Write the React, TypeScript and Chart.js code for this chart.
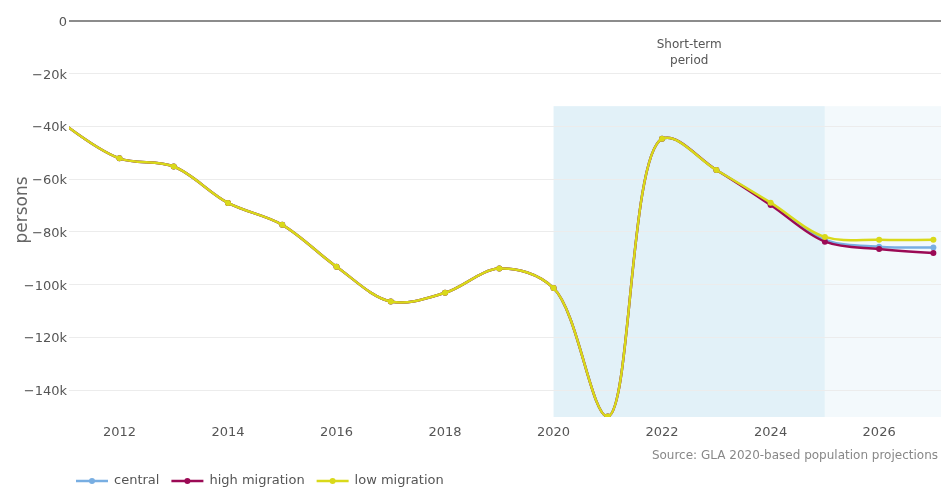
import React, { useEffect, useRef } from 'react';
import { Chart, registerables } from 'chart.js';

Chart.register(...registerables);

// ---------- data ----------
const years = [2011, 2012, 2013, 2014, 2015, 2016, 2017, 2018, 2019, 2020, 2021, 2022, 2023, 2024, 2025, 2026, 2027];
const central = [-39400, -52100, -55200, -69000, -77300, -93200, -106400, -103100, -93900, -101300, -150000, -44700, -56500, -69300, -83000, -85600, -85900];
const highMigration = [-39400, -52100, -55200, -69000, -77300, -93200, -106400, -103100, -93900, -101300, -150000, -44700, -56500, -69800, -83700, -86500, -88000];
const lowMigration = [-39400, -52100, -55200, -69000, -77300, -93200, -106400, -103100, -93900, -101300, -150000, -44700, -56500, -68900, -81900, -83000, -83000];
const seriesNames = ['central', 'high migration', 'low migration'];
const xTickValues = [2012, 2014, 2016, 2018, 2020, 2022, 2024, 2026];
const yTickValues = [0, -20000, -40000, -60000, -80000, -100000, -120000, -140000];
const shortTermStart = 2020;
const shortTermEnd = 2025;
const shadeTopValue = -32300;
const annotationLines = ['Short-term', 'period'];
const annotationX = 2022.5;
const yTitle = 'persons';
const sourceText = 'Source: GLA 2020-based population projections';

// ---------- styles ----------
const seriesColors = ['#78aee2', '#9b0a55', '#d9d91a'];
const FONT = '"DejaVu Sans", Verdana, sans-serif';

function makeTangent(p: number[], t: number[], n: number[]) {
  const d1x = p[0] - t[0], d1y = p[1] - t[1];
  const d2x = n[0] - t[0], d2y = n[1] - t[1];
  const d1a = Math.pow(d1x * d1x + d1y * d1y, 0.25);
  const d2a = Math.pow(d2x * d2x + d2y * d2y, 0.25);
  const numx = d2a * d2a * d1x - d1a * d1a * d2x;
  const numy = d2a * d2a * d1y - d1a * d1a * d2y;
  const den1 = 3 * d2a * (d1a + d2a);
  const den2 = 3 * d1a * (d1a + d2a);
  return [
    [t[0] + (den1 && numx / den1), t[1] + (den1 && numy / den1)],
    [t[0] - (den2 && numx / den2), t[1] - (den2 && numy / den2)],
  ];
}

const decorPlugin = {
  id: 'decor',
  beforeDraw(chart: any) {
    const { ctx, chartArea, scales } = chart;
    const x = scales.x, y = scales.y;
    const x1 = x.getPixelForValue(shortTermStart);
    const x2 = x.getPixelForValue(shortTermEnd);
    const yt = y.getPixelForValue(shadeTopValue);
    ctx.save();
    ctx.fillStyle = '#e2f1f8';
    ctx.fillRect(x1, yt, x2 - x1, chartArea.bottom - yt);
    ctx.fillStyle = '#f3f9fc';
    ctx.fillRect(x2, yt, chartArea.right - x2, chartArea.bottom - yt);
    ctx.restore();
  },
  beforeDatasetDraw(chart: any, args: any) {
    const meta = args.meta;
    const pts = meta.data;
    const n = pts.length;
    if (n < 3) return;
    const P = pts.map((p: any) => [p.x, p.y]);
    const tans: any[] = [];
    for (let i = 1; i < n - 1; i++) tans[i] = makeTangent(P[i - 1], P[i], P[i + 1]);
    const setCp = (i: number, which: 1 | 2, c: number[]) => {
      pts[i]['cp' + which + 'x'] = c[0];
      pts[i]['cp' + which + 'y'] = c[1];
    };
    setCp(0, 1, P[0]);
    setCp(n - 1, 2, P[n - 1]);
    let c = tans[1][0];
    setCp(0, 2, [P[0][0] + (2 / 3) * (c[0] - P[0][0]), P[0][1] + (2 / 3) * (c[1] - P[0][1])]);
    setCp(1, 1, [P[1][0] + (2 / 3) * (c[0] - P[1][0]), P[1][1] + (2 / 3) * (c[1] - P[1][1])]);
    for (let i = 2; i < n - 1; i++) {
      setCp(i - 1, 2, tans[i - 1][1]);
      setCp(i, 1, tans[i][0]);
    }
    c = tans[n - 2][1];
    setCp(n - 2, 2, [P[n - 2][0] + (2 / 3) * (c[0] - P[n - 2][0]), P[n - 2][1] + (2 / 3) * (c[1] - P[n - 2][1])]);
    setCp(n - 1, 1, [P[n - 1][0] + (2 / 3) * (c[0] - P[n - 1][0]), P[n - 1][1] + (2 / 3) * (c[1] - P[n - 1][1])]);
    meta.dataset._pointsUpdated = true;
    meta.dataset._path = undefined;
  },
  afterDraw(chart: any) {
    const { ctx, scales } = chart;
    const x = scales.x;
    ctx.save();
    ctx.fillStyle = '#555';
    ctx.font = `12px ${FONT}`;
    ctx.textAlign = 'center';
    ctx.textBaseline = 'middle';
    const ax = x.getPixelForValue(annotationX);
    annotationLines.forEach((t, i) => ctx.fillText(t, ax, 45 + i * 16));
    ctx.save();
    ctx.translate(23, 210);
    ctx.rotate(-Math.PI / 2);
    ctx.fillStyle = '#666';
    ctx.font = `17px ${FONT}`;
    ctx.fillText(yTitle, 0, 0);
    ctx.restore();
    ctx.fillStyle = '#888';
    ctx.font = `12px ${FONT}`;
    ctx.textAlign = 'right';
    ctx.fillText(sourceText, 938, 456);
    ctx.font = `13px ${FONT}`;
    ctx.textAlign = 'left';
    let lx = 76;
    const ly = 481;
    seriesNames.forEach((name, i) => {
      ctx.strokeStyle = seriesColors[i];
      ctx.lineWidth = 2.5;
      ctx.beginPath();
      ctx.moveTo(lx, ly);
      ctx.lineTo(lx + 32, ly);
      ctx.stroke();
      ctx.fillStyle = seriesColors[i];
      ctx.beginPath();
      ctx.arc(lx + 16, ly, 3, 0, Math.PI * 2);
      ctx.fill();
      ctx.fillStyle = '#555';
      ctx.fillText(name, lx + 38, ly);
      lx += 38 + ctx.measureText(name).width + 12;
    });
    ctx.restore();
  },
};

export default function App() {
  const ref = useRef<HTMLCanvasElement | null>(null);
  useEffect(() => {
    if (!ref.current) return;
    const series = [central, highMigration, lowMigration];
    const orders = [3, 2, 1];
    const chart = new Chart(ref.current, {
      type: 'line',
      data: {
        datasets: series.map((vals, i) => ({
          label: seriesNames[i],
          data: years.map((yr, j) => ({ x: yr, y: vals[j] })),
          borderColor: seriesColors[i],
          backgroundColor: seriesColors[i],
          borderWidth: 2.5,
          pointRadius: 3,
          pointBorderWidth: 0,
          pointBackgroundColor: seriesColors[i],
          tension: 0.4,
          fill: false,
          clip: 0,
          order: orders[i],
        })),
      },
      options: {
        responsive: false,
        animation: false,
        devicePixelRatio: 1,
        layout: { padding: { top: 21, right: 10, left: 0, bottom: 0 } },
        plugins: { legend: { display: false }, tooltip: { enabled: false }, title: { display: false } },
        events: [],
        scales: {
          x: {
            type: 'linear',
            min: 2011.07,
            max: 2027.14,
            afterBuildTicks: (s: any) => { s.ticks = xTickValues.map((v) => ({ value: v })); },
            afterFit: (s: any) => { s.height = 74; },
            grid: { display: false, drawTicks: false },
            border: { display: false },
            ticks: {
              autoSkip: false,
              maxRotation: 0,
              padding: 8,
              color: '#555',
              font: { family: FONT, size: 13 },
              callback: (v: any) => String(v),
            },
          },
          y: {
            type: 'linear',
            min: -150200,
            max: 0,
            afterBuildTicks: (s: any) => { s.ticks = yTickValues.map((v) => ({ value: v })); },
            afterFit: (s: any) => { s.width = 69; },
            grid: {
              drawTicks: false,
              color: (c: any) => (c.tick && c.tick.value === 0 ? '#8c8c8c' : '#ececec'),
              lineWidth: (c: any) => (c.tick && c.tick.value === 0 ? 2 : 1),
            },
            border: { display: false },
            ticks: {
              padding: 2,
              labelOffset: 1.5,
              color: '#555',
              font: { family: FONT, size: 13 },
              callback: (v: any) => (v === 0 ? '0' : '\u2212' + Math.abs(v) / 1000 + 'k'),
            },
          },
        },
      },
      plugins: [decorPlugin],
    } as any);
    return () => chart.destroy();
  }, []);
  return (
    <canvas
      ref={ref}
      width={951}
      height={491}
      style={{ position: 'absolute', left: 0, top: 0, width: 951, height: 491, display: 'block' }}
    />
  );
}
